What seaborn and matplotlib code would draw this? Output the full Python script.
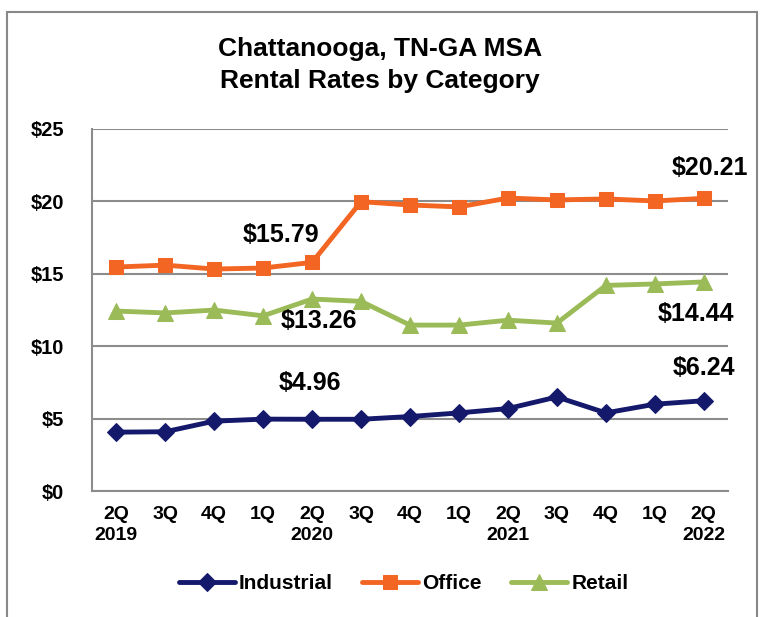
import pandas as pd
import seaborn as sns
import matplotlib.pyplot as plt
from matplotlib.patches import Rectangle

# Datos
quarters = ['2Q', '3Q', '4Q', '1Q', '2Q', '3Q', '4Q', '1Q', '2Q', '3Q', '4Q', '1Q', '2Q']
years = ['2019', '', '', '', '2020', '', '', '', '2021', '', '', '', '2022']
industrial = [4.07, 4.10, 4.83, 4.97, 4.96, 4.96, 5.15, 5.40, 5.70, 6.50, 5.40, 6.00, 6.24]
office = [15.47, 15.60, 15.33, 15.40, 15.79, 19.98, 19.75, 19.62, 20.23, 20.10, 20.17, 20.03, 20.21]
retail = [12.43, 12.30, 12.50, 12.10, 13.26, 13.10, 11.46, 11.46, 11.80, 11.60, 14.20, 14.30, 14.44]

series = {'Industrial': industrial, 'Office': office, 'Retail': retail}
colores = {'Industrial': '#14196B', 'Office': '#F26522', 'Retail': '#9BBB59'}
marcadores = {'Industrial': 'D', 'Office': 's', 'Retail': '^'}

data = pd.DataFrame([
    {'idx': i, 'valor': v, 'serie': nombre}
    for nombre, valores in series.items()
    for i, v in enumerate(valores)
])

sns.set_style('white')
plt.rcParams['font.family'] = ['Liberation Sans', 'DejaVu Sans']
plt.rcParams['font.weight'] = 'bold'
plt.rcParams['text.color'] = 'black'
plt.rcParams['xtick.color'] = 'black'
plt.rcParams['ytick.color'] = 'black'

fig = plt.figure(figsize=(7.65, 6.17), dpi=100)
ax = fig.add_axes([0.120, 0.204, 0.832, 0.587])

# Borde exterior del grafico
fig.patches.append(Rectangle((0.009, -0.1), 0.981, 1.08, transform=fig.transFigure,
                             fill=False, edgecolor='#888888', linewidth=1.5))

tamanos = {'Industrial': 9, 'Office': 10, 'Retail': 11}
for nombre in series:
    sub = data[data['serie'] == nombre]
    sns.lineplot(data=sub, x='idx', y='valor', ax=ax, color=colores[nombre],
                 marker=marcadores[nombre], markersize=tamanos[nombre],
                 markeredgecolor=colores[nombre], linewidth=3.5, label=nombre)

ax.set_xlim(-0.5, 12.5)
ax.set_ylim(0, 25)
ax.set_yticks(range(0, 26, 5))
ax.set_yticklabels([f'${v}' for v in range(0, 26, 5)], fontsize=14.5, fontweight='bold')
ax.yaxis.grid(True, color='#8C8C8C', linewidth=1.5)
ax.set_axisbelow(True)

# Marcas en los limites de categoria, etiquetas centradas
ax.set_xticks([i - 0.5 for i in range(14)])
ax.set_xticklabels([])
ax.set_xticks(range(13), minor=True)
ax.set_xticklabels([f'{q}\n{y}' for q, y in zip(quarters, years)], minor=True,
                   fontsize=14, fontweight='bold', linespacing=1.3)
ax.tick_params(axis='x', which='major', length=6, color='#8C8C8C', width=1.5, direction='out')
ax.tick_params(axis='x', which='minor', length=0, pad=11)
ax.tick_params(axis='y', length=6, color='#8C8C8C', width=1.5, direction='out', pad=14)

for lado in ['top', 'right']:
    ax.spines[lado].set_visible(False)
for lado in ['left', 'bottom']:
    ax.spines[lado].set_color('#8C8C8C')
    ax.spines[lado].set_linewidth(1.5)

ax.set_xlabel('')
ax.set_ylabel('')

# Etiquetas de valores
etiquetas = [
    (4, office, 3.36, 17.68),
    (12, office, 12.12, 22.3),
    (4, retail, 4.14, 11.74),
    (12, retail, 11.83, 12.22),
    (4, industrial, 3.96, 7.46),
    (12, industrial, 12.01, 8.5),
]
for i, valores, tx, ty in etiquetas:
    ax.text(tx, ty, f'${valores[i]:.2f}', fontsize=18, fontweight='bold',
            ha='center', va='center')

fig.text(0.497, 0.895, 'Chattanooga, TN-GA MSA\nRental Rates by Category',
         ha='center', va='center', fontsize=19, fontweight='bold', linespacing=1.45)

ax.legend(loc='center', bbox_to_anchor=(0.49, -0.255), ncol=3, frameon=False,
          fontsize=15, handlelength=2.7, columnspacing=1.4, handletextpad=0.2)

plt.savefig('out.png', dpi=100)
